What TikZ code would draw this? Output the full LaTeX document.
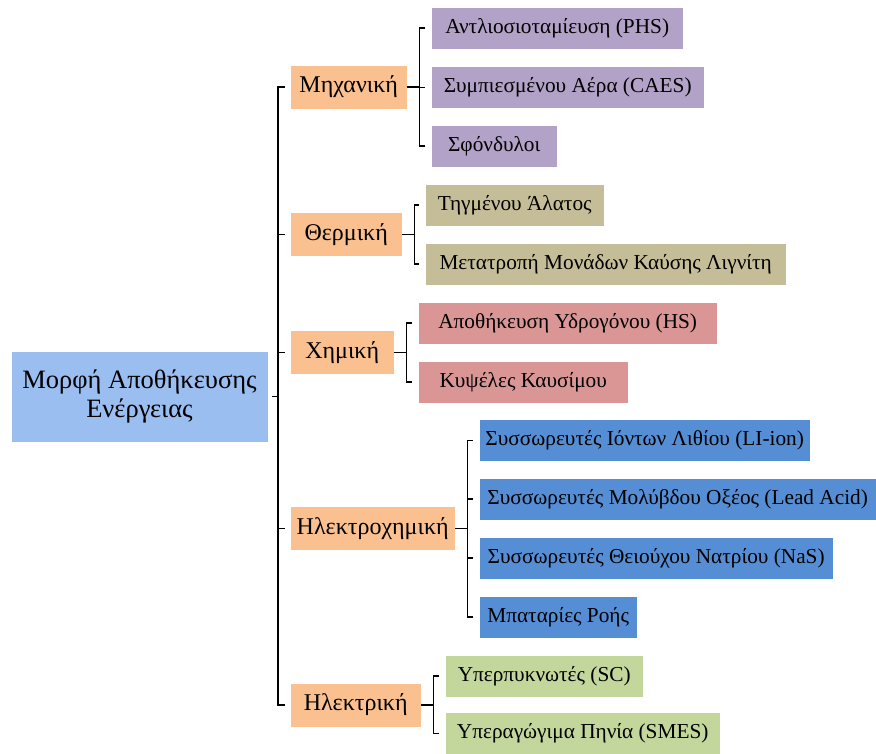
\documentclass[tikz,border=0pt]{standalone}
\usepackage{fontspec}
\setmainfont{Liberation Serif}
\usepackage{tikz}

\definecolor{rootblue}{RGB}{155,190,240}
\definecolor{catorange}{RGB}{250,192,144}
\definecolor{mechpurple}{RGB}{179,162,199}
\definecolor{thermtan}{RGB}{196,189,151}
\definecolor{chempink}{RGB}{217,150,148}
\definecolor{elchblue}{RGB}{85,142,213}
\definecolor{elecgreen}{RGB}{195,214,155}

\tikzset{
  rootbox/.style={fill=rootblue, draw=white, inner sep=0pt, align=center, font=\fontsize{26.5}{29}\selectfont},
  catbox/.style={fill=catorange, draw=white, inner sep=0pt, anchor=west, minimum height=44, font=\fontsize{24}{28}\selectfont},
  subbox/.style={draw=white, inner sep=0pt, anchor=west, minimum height=42, font=\fontsize{21.3}{25}\selectfont},
  link/.style={line width=1.1pt, black}
}

\begin{document}
\begin{tikzpicture}[x=1pt,y=1pt,yscale=-1,xscale=1]
\useasboundingbox (0,0) rectangle (876,754);

%Root
\node[rootbox, minimum width=257, minimum height=91] (root) at (139.5,396.5) {Μορφή Αποθήκευσης\\Ενέργειας};

%Categories
\node[catbox, minimum width=117] (mech) at (290,87) {Μηχανική};
\node[catbox, minimum width=112] (therm) at (290,234.5) {Θερμική};
\node[catbox, minimum width=104] (chem) at (290,352.5) {Χημική};
\node[catbox, minimum width=165] (elch) at (290,528.5) {Ηλεκτροχημική};
\node[catbox, minimum width=131] (elec) at (290,705) {Ηλεκτρική};

%Mechanical
\node[subbox, fill=mechpurple, minimum width=252] (phs) at (431,28) {Αντλιοσιοταμίευση (PHS)};
\node[subbox, fill=mechpurple, minimum width=273] (caes) at (431,87.5) {Συμπιεσμένου Αέρα (CAES)};
\node[subbox, fill=mechpurple, minimum width=126] (fly) at (431,146) {Σφόνδυλοι};

%Thermal
\node[subbox, fill=thermtan, minimum width=179] (salt) at (425,205) {Τηγμένου Άλατος};
\node[subbox, fill=thermtan, minimum width=361] (lign) at (425,264) {Μετατροπή Μονάδων Καύσης Λιγνίτη};

%Chemical
\node[subbox, fill=chempink, minimum width=299] (hs) at (418,323) {Αποθήκευση Υδρογόνου (HS)};
\node[subbox, fill=chempink, minimum width=210] (fuel) at (418,382) {Κυψέλες Καυσίμου};

%Electrochemical
\node[subbox, fill=elchblue, minimum width=331] (liion) at (479,440.5) {Συσσωρευτές Ιόντων Λιθίου (LI-ion)};
\node[subbox, fill=elchblue, minimum width=397] (lead) at (479,499) {Συσσωρευτές Μολύβδου Οξέος (Lead Acid)};
\node[subbox, fill=elchblue, minimum width=354] (nas) at (479,558) {Συσσωρευτές Θειούχου Νατρίου (NaS)};
\node[subbox, fill=elchblue, minimum width=158] (flow) at (479,617) {Μπαταρίες Ροής};

%Electrical
\node[subbox, fill=elecgreen, minimum width=198] (sc) at (445,676) {Υπερπυκνωτές (SC)};
\node[subbox, fill=elecgreen, minimum width=275] (smes) at (445,733.5) {Υπεραγώγιμα Πηνία (SMES)};

%Trunk
\coordinate (trunk) at (278,396.5);
\draw[link] ([xshift=4]root.east) -- (trunk);
\foreach \c in {mech,therm,chem,elch,elec}
  \draw[link] (trunk) |- ([xshift=-5]\c.west);

%Branches
\foreach \c/\s in {mech/phs,mech/caes,mech/fly,therm/salt,therm/lign,chem/hs,chem/fuel,
                   elch/liion,elch/lead,elch/nas,elch/flow,elec/sc,elec/smes}
  \draw[link] (\c.east) -- ++(12,0) |- ([xshift=-6]\s.west);
\end{tikzpicture}
\end{document}
